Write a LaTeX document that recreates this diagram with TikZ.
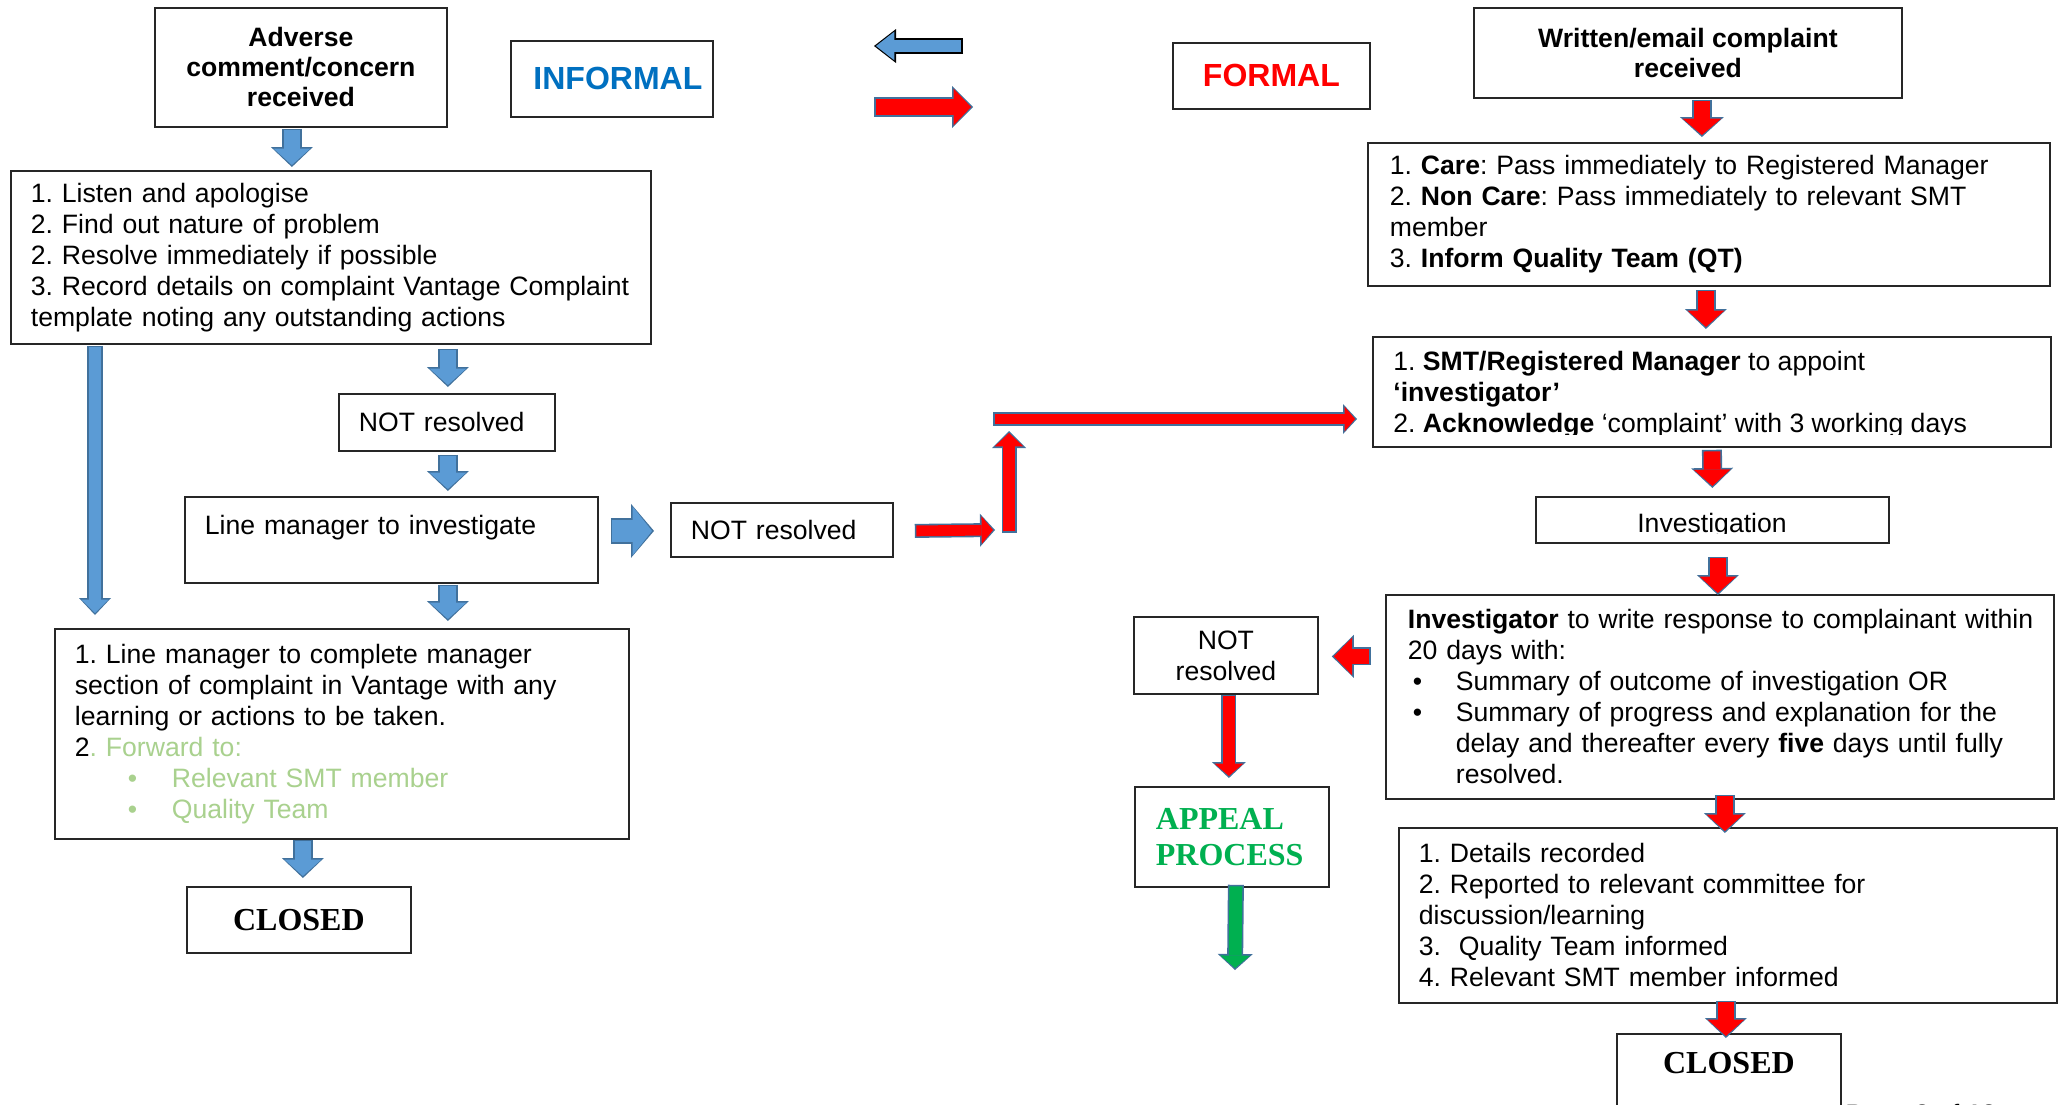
\documentclass[tikz,border=0pt]{standalone}
\usepackage{fontspec}
\setmainfont{Liberation Sans}
\newfontfamily\timesbf{Liberation Serif}
\usepackage{xcolor}
\usetikzlibrary{arrows.meta}
\usetikzlibrary{calc}
\frenchspacing

\definecolor{arrowblue}{HTML}{5B9BD5}
\definecolor{edgeblue}{HTML}{41719C}
\definecolor{informalblue}{HTML}{0070C0}
\definecolor{appealgreen}{HTML}{00B050}
\definecolor{lightgreen}{HTML}{A9D18E}

% block arrow: fill, edge, shaft width, head width, head length (pt)
\tikzset{
  fat/.code n args={5}{%
    \pgfmathsetmacro\fatshaft{#3-1.6}%
    \pgfmathsetmacro\fathead{#4-2.6}%
    \pgfmathsetmacro\fatlen{#5-1.8}%
    \edef\fatkeys{draw=#1, line width=\fatshaft pt, shorten <=0.8pt, shorten >=1pt,
      -{Triangle[length=\fatlen pt, width=\fathead pt, line width=0pt]},
      preaction={draw=#2, line width=#3pt, shorten <=0pt, shorten >=0pt,
        -{Triangle[length=#5pt, width=#4pt, line width=0pt]}}}%
    \expandafter\pgfkeysalso\expandafter{\fatkeys}%
  },
  bluearrow/.style n args={3}{fat={arrowblue}{edgeblue}{#1}{#2}{#3}},
  redarrow/.style n args={3}{fat={red}{edgeblue}{#1}{#2}{#3}},
  greenarrow/.style n args={3}{fat={appealgreen}{edgeblue}{#1}{#2}{#3}},
}

\begin{document}
\begin{tikzpicture}[x=0.5pt, y=-0.5pt,
    box/.style={draw=black!85, line width=0.9pt, fill=white, anchor=north west, inner sep=0pt,
      font=\fontsize{13.3}{15.5}\selectfont},
    listbox/.style 2 args={box, align=left, text width=#1, execute at begin node={\leftskip=#2\relax}},
    head/.style={box, align=center, font=\fontsize{13.3}{15}\selectfont\bfseries},
    closedfont/.style={font=\timesbf\bfseries\fontsize{16}{18}\selectfont},
    closedbox/.style={box, closedfont}]
  \useasboundingbox (0,0) rectangle (2061,1104);

  % Informal side
  \node[head, minimum width=146pt, minimum height=59.5pt] (adverse) at (154,7) {Adverse\\comment/concern\\received};
  \node[box, minimum width=101pt, minimum height=38pt, font=\fontsize{16}{19}\selectfont\bfseries, text=informalblue] (informal) at (510,40) {\hspace{6pt}INFORMAL};
  \node[listbox={318pt}{9pt}, minimum width=320pt, minimum height=86.5pt] (steps) at (10,170)
    {1. Listen and apologise\\2. Find out nature of problem\\2. Resolve immediately if possible\\3. Record details on complaint Vantage Complaint\\template noting any outstanding actions};
  \node[listbox={106pt}{9pt}, minimum width=108pt, minimum height=28.5pt] (notres1) at (338,393) {NOT resolved};
  \node[listbox={204.5pt}{9pt}, minimum width=206.5pt, minimum height=43pt] (linemgr) at (184,496) {Line manager to investigate\\\mbox{}};
  \node[listbox={109pt}{9pt}, minimum width=111pt, minimum height=27pt] (notres2) at (670,502) {NOT resolved};
  \node[listbox={285pt}{9pt}, minimum width=287pt, minimum height=105pt] (lmdone) at (54,628)
    {1. Line manager to complete manager\\section of complaint in Vantage with any\\learning or actions to be taken.\\
     2{\color{lightgreen}. Forward to:}\\
     {\color{lightgreen}\hspace*{26.5pt}\makebox[22pt][l]{\textbullet}Relevant SMT member}\\
     {\color{lightgreen}\hspace*{26.5pt}\makebox[22pt][l]{\textbullet}Quality Team}};
  \node[closedbox, minimum width=112pt, minimum height=33pt] (closedL) at (186,886) {CLOSED};

  % Formal side
  \node[box, minimum width=98.5pt, minimum height=33pt, font=\fontsize{16}{19}\selectfont\bfseries, text=red] (formal) at (1172,42) {FORMAL};
  \node[head, minimum width=214pt, minimum height=45pt] (written) at (1473,7) {Written/email complaint\\received};
  \node[listbox={339pt}{10pt}, minimum width=341pt, minimum height=71.5pt] (care) at (1367,142)
    {1. \textbf{Care}: Pass immediately to Registered Manager\\2. \textbf{Non Care}: Pass immediately to relevant SMT\\member\\3. \textbf{Inform Quality Team (QT)}};
  \node[box, minimum width=339pt, minimum height=55pt] (smt) at (1372,336) {};
  \begin{scope}
    \clip (1373,337) rectangle (2049,434);
    \node[anchor=north west, inner sep=0pt, align=left, font=\fontsize{13.3}{15.5}\selectfont] (smttext) at (1393,351)
      {1. \textbf{SMT/Registered Manager} to appoint\\\textbf{‘investigator’}\\2. \textbf{Acknowledge} ‘complaint’ with 3 working days};
  \end{scope}
  \node[box, minimum width=176.5pt, minimum height=23pt] (investigation) at (1535,496) {};
  \begin{scope}
    \clip (1536,497) rectangle (1887,533);
    \node[anchor=base, inner sep=0pt, font=\fontsize{13.3}{15.5}\selectfont] (invtext) at (1712,532) {Investigation};
  \end{scope}
  \node[listbox={332pt}{10pt}, minimum width=334pt, minimum height=102pt] (investigator) at (1385,594)
    {\textbf{Investigator} to write response to complainant within\\20 days with:\\
     \hspace*{2.5pt}\makebox[21.5pt][l]{\textbullet}Summary of outcome of investigation OR\\
     \hspace*{2.5pt}\makebox[21.5pt][l]{\textbullet}Summary of progress and explanation for the\\
     \hspace*{24pt}delay and thereafter every \textbf{five} days until fully\\
     \hspace*{24pt}resolved.};
  \node[box, minimum width=92pt, minimum height=38.5pt, align=center] (notres3) at (1133,616) {NOT\\resolved};
  \node[listbox={95pt}{9.5pt}, closedfont, minimum width=97pt, minimum height=50pt, text=appealgreen] (appeal) at (1134,786) {APPEAL\\PROCESS};
  \node[listbox={327pt}{9pt}, minimum width=329pt, minimum height=87.5pt] (details) at (1398,827)
    {1. Details recorded\\2. Reported to relevant committee for\\discussion/learning\\3.\ \ Quality Team informed\\4. Relevant SMT member informed};
  \node[closedbox, minimum width=112pt, minimum height=40pt, text depth=11pt] (closedR) at (1616,1033) {CLOSED};
  \node[anchor=base west, inner sep=0pt, font=\fontsize{13.3}{15.5}\selectfont] (page) at (1845,1123) {Page \textbf{3} of \textbf{13}};

  % Legend arrows
  \coordinate (legbluestart) at (963,46);
  \coordinate (legblueend) at (874,46);
  \coordinate (legredstart) at (874,107);
  \coordinate (legredend) at (973,107);
  \draw[fat={arrowblue}{black}{8}{17}{11}] (legbluestart) -- (legblueend);
  \draw[redarrow={10}{21}{10.5}] (legredstart) -- (legredend);

  % Informal arrows
  \draw[bluearrow={10}{21}{10}] ($(adverse.south)+(-9,1)$) -- ($(adverse.south |- steps.north)+(-9,-3)$);
  \draw[bluearrow={8}{16}{8.5}] ($(steps.south west)+(85,1)$) -- ($(steps.south west |- lmdone.north)+(85,-13)$);
  \draw[bluearrow={10}{21}{10}] ($(notres1.north |- steps.south)+(1,4)$) -- ($(notres1.north)+(1,-6)$);
  \draw[bluearrow={10}{21}{10}] ($(notres1.south)+(1,3)$) -- ($(notres1.south |- linemgr.north)+(1,-5)$);
  \draw[bluearrow={13}{27}{11.5}] ($(linemgr.east |- notres2.west)+(12,1)$) -- ($(notres2.west)+(-16,1)$);
  \draw[bluearrow={10}{21}{10}] ($(notres1.south |- linemgr.south)+(1,1)$) -- ($(notres1.south |- lmdone.north)+(1,-7)$);
  \draw[bluearrow={10}{21}{10}] ($(closedL.north |- lmdone.south)+(4,0)$) -- ($(closedL.north)+(4,-8)$);

  % Escalation to formal
  \coordinate (turnlow) at (1009,530);
  \coordinate (turnhigh) at (1009,419);
  \draw[redarrow={7}{16.5}{7.5}] ($(notres2.east)+(21,1)$) -- ($(turnlow)+(-14,0)$);
  \draw[redarrow={7.5}{17}{8.5}] ($(turnlow)+(0,3)$) -- ($(turnhigh)+(0,12)$);
  \draw[redarrow={7}{15}{7}] ($(turnhigh)+(-16,0)$) -- ($(smt.west |- turnhigh)+(-15,0)$);

  % Formal arrows
  \draw[redarrow={10}{22}{10}] ($(written.south)+(14,1)$) -- ($(written.south |- care.north)+(14,-5)$);
  \draw[redarrow={10}{21}{10}] ($(care.south)+(-3,3)$) -- ($(care.south |- smt.north)+(-3,-7)$);
  \draw[redarrow={10}{21}{10}] ($(smt.south)+(0,2)$) -- ($(investigation.north)+(0,-8)$);
  \draw[redarrow={10}{21}{10}] ($(investigator.north |- investigation.south)+(-2,13)$) -- ($(investigator.north)+(-2,1)$);
  \draw[redarrow={9}{21.5}{11}] ($(notres3.east -| investigator.west)+(-14,1)$) -- ($(notres3.east)+(13,1)$);
  \draw[redarrow={7.5}{17}{8}] ($(notres3.south)+(3,0)$) -- ($(notres3.south |- appeal.north)+(3,-8)$);
  \coordinate (appealend) at (1235,970);
  \draw[greenarrow={8}{17.5}{8}] ($(appeal.south)+(4,-3)$) -- (appealend);
  \draw[redarrow={10}{21}{10}] ($(investigator.south)+(5,-5)$) -- ($(investigator.south |- details.north)+(5,6)$);
  \draw[redarrow={10}{21}{10}] ($(details.south)+(-2,-3)$) -- ($(details.south |- closedR.north)+(-2,5)$);
\end{tikzpicture}
\end{document}
